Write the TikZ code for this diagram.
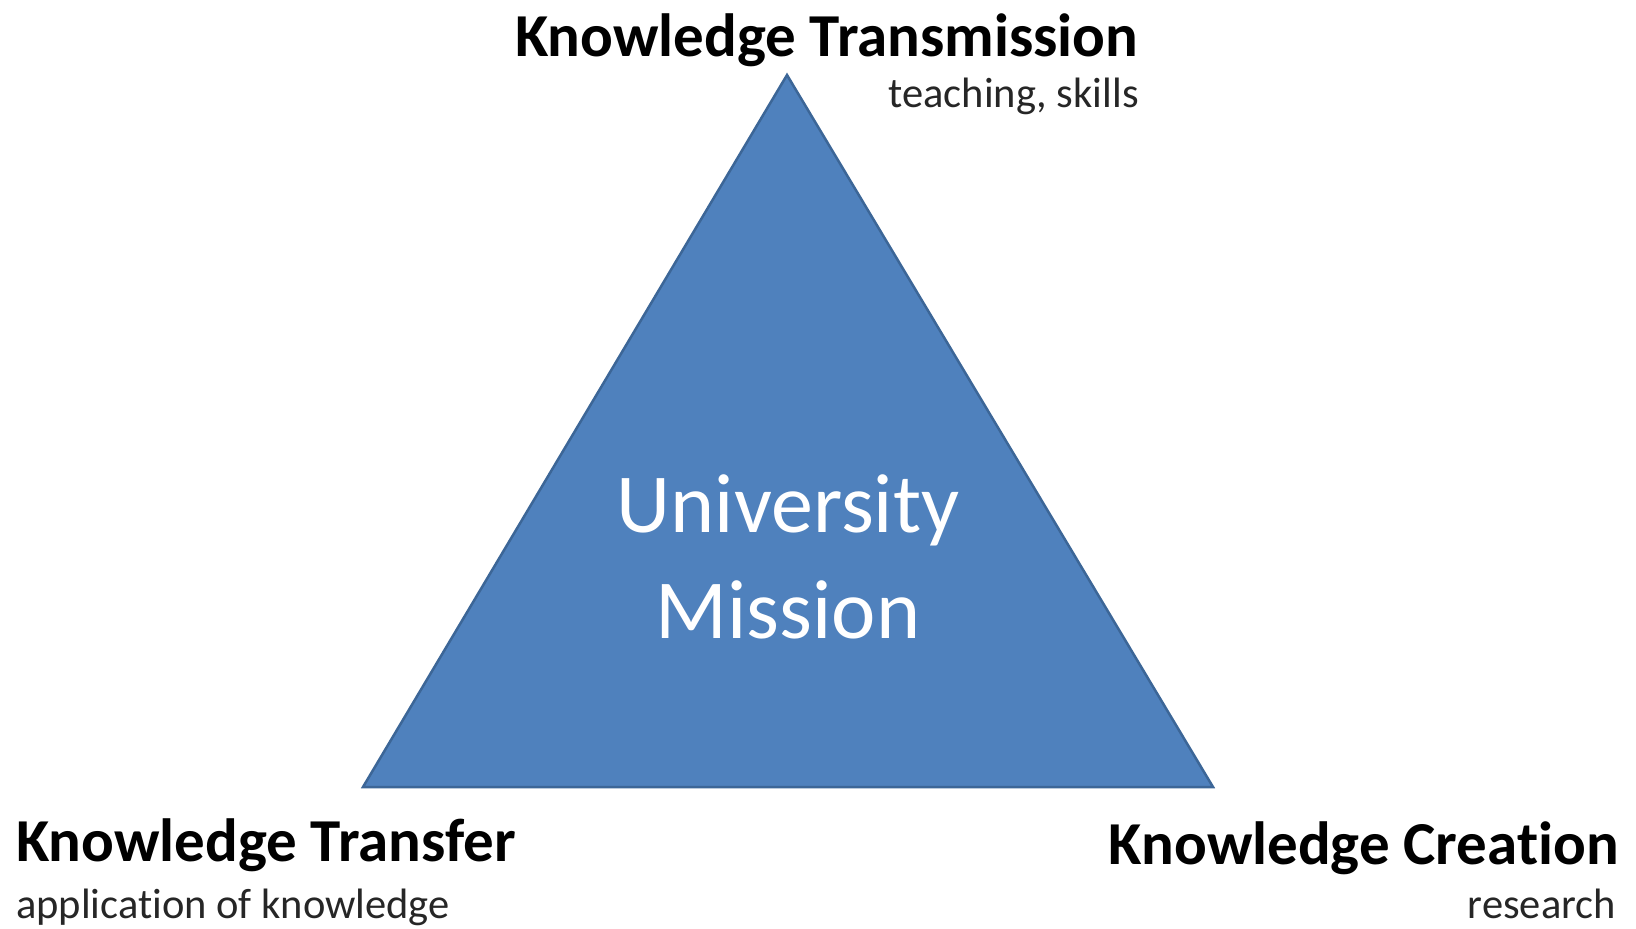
\documentclass[tikz,border=0pt]{standalone}
\usepackage{fontspec}
\setmainfont{Carlito}[Ligatures=NoCommon]
\definecolor{triblue}{HTML}{4F81BD}
\definecolor{triedge}{HTML}{3C6697}
\definecolor{subgray}{HTML}{262626}
\tikzset{
  title/.style={font=\fontsize{61}{73}\selectfont\bfseries, text=black, inner sep=0pt},
  subtitle/.style={font=\fontsize{42.5}{51}\selectfont, text=subgray, inner sep=0pt},
  mission/.style={font=\fontsize{84}{104}\selectfont, text=white, align=center, inner sep=0pt}
}
\begin{document}
\begin{tikzpicture}[x=1pt,y=-1pt]
\useasboundingbox (0,0) rectangle (1636,929);

\coordinate (top) at (787,75);
\coordinate (bl) at (363,787);
\coordinate (br) at (1213,787);
\filldraw[fill=triblue, draw=triedge, line width=2.5pt, line join=miter] (top) -- (br) -- (bl) -- cycle;

\node[mission, anchor=base] (uni) at (788,532) {University};
\node[mission, anchor=base] (mis) at (788,638) {Mission};

\node[title, anchor=base west] (trans) at (515,56) {Knowledge Transmission};
\node[subtitle, anchor=base east] (teach) at (1139,107) {teaching, skills};

\node[title, anchor=base west] (transf) at (16,861) {Knowledge Transfer};
\node[subtitle, anchor=base west] (appl) at (16,918) {application of knowledge};

\node[title, anchor=base east] (creat) at (1619,864) {Knowledge Creation};
\node[subtitle, anchor=base east] (res) at (1616,918) {research};
\end{tikzpicture}
\end{document}
